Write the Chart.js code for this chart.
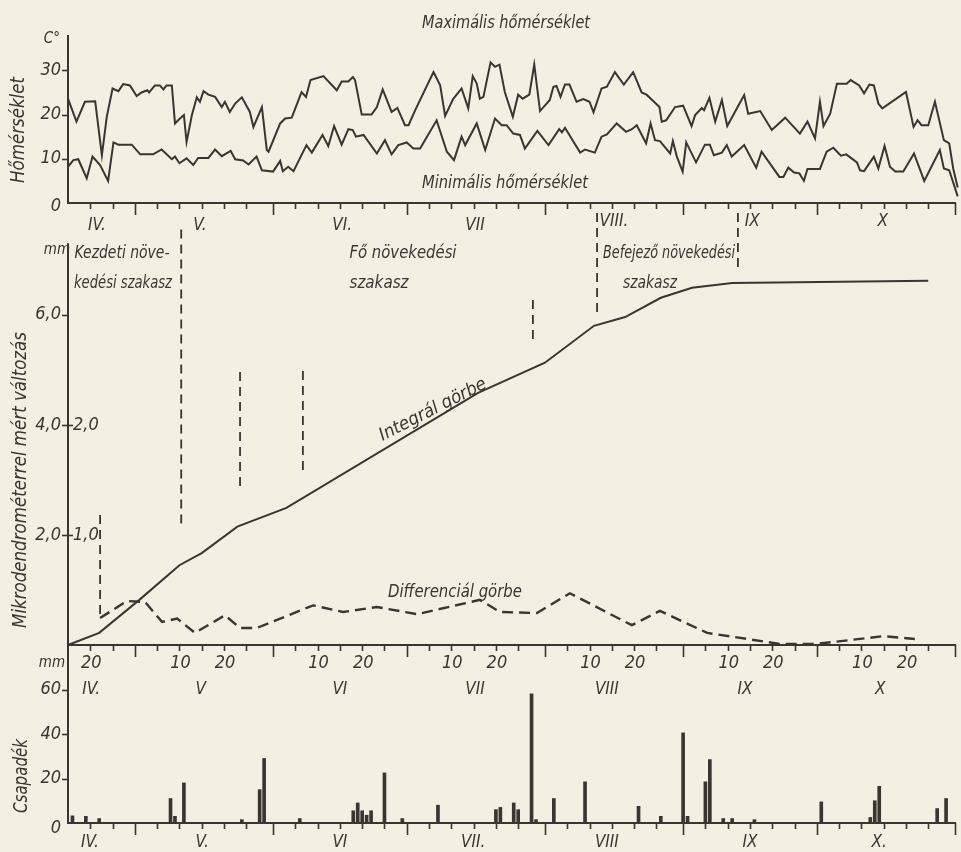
<!DOCTYPE html>
<html>
<head>
<meta charset="utf-8">
<script src="https://cdn.jsdelivr.net/npm/chart.js@4.4.1/dist/chart.umd.min.js"></script>
<style>
  html, body { margin: 0; padding: 0; background: #f3efe3; }
  #wrap { position: relative; width: 961px; height: 852px; overflow: hidden; }
  #wrap canvas { position: absolute; left: 0; top: 0; }
</style>
</head>
<body>
<div id="wrap">
  <canvas id="temp" width="961" height="852"></canvas>
  <canvas id="growth" width="961" height="852"></canvas>
  <canvas id="rain" width="961" height="852"></canvas>
</div>
<script>
// x = day counted from 15 April (0) to 31 October (199)

const maxTempDays = [0, 1.9, 3.8, 6.1, 7.6, 8.7, 10, 11.3, 12.4, 13.9, 15.4, 16.5, 17.8, 18.2, 19.5, 20.6, 21.4, 22.1, 23.3,
  24, 25, 26, 26.6, 27.8, 28.9, 29.6, 30.4, 31.5, 33, 34.5, 35.2, 36.3, 37.5, 39, 40.8, 41.6, 43.5, 44.6, 45, 47.6,
  48.7, 50.2, 52.4, 53.4, 54.4, 57.3, 60.3, 61.4, 62.9, 63.9, 64.4, 65.9, 68.1, 69.3, 70.6, 72.6, 73.9, 75.6, 76.4,
  77.9, 82, 83.5, 84.6, 86.4, 88.3, 89.8, 90.8, 91.7, 92.4, 93.2, 94.8, 95.8, 96.8, 98, 99.8, 101, 102, 103.5, 104.6,
  105.9, 108.1, 108.9, 109.6, 110.5, 111.5, 112.5, 114.1, 115.6, 117, 117.9, 119.7, 120.9, 122.7, 124.7, 126.8, 128.7,
  129.8, 132.7, 133.2, 134.2, 136.2, 138, 139.9, 140.7, 142.2, 142.7, 143.9, 145.2, 146.7, 147.9, 151.7, 152.6, 155.3,
  157.9, 160.9, 164.2, 165.9, 167.6, 168.7, 169.5, 171, 172.5, 174.7, 175.6, 177.5, 178.6, 179.8, 180.8, 181.8, 182.7,
  188, 189.7, 190.6, 191.5, 193, 194.5, 196.5, 197.7, 198.6, 199.6];
const maxTemp = [23.6, 18.4, 22.9, 23.0, 10.8, 19.5, 25.9, 25.3, 26.9, 26.6, 24.2, 25.0, 25.5, 25.0, 26.6, 26.6, 25.7, 26.6, 26.6,
  18.0, 19.0, 19.9, 13.8, 19.9, 23.9, 22.9, 25.3, 24.5, 24.0, 21.7, 22.9, 20.6, 22.5, 23.9, 20.6, 17.2, 21.7, 12.0, 11.6, 18.0,
  19.1, 19.3, 25.1, 24.0, 27.8, 28.7, 25.5, 27.5, 27.5, 28.5, 27.8, 20.0, 20.0, 21.7, 25.7, 20.6, 21.5, 17.6, 17.6,
  21.0, 29.6, 26.6, 19.7, 23.5, 25.9, 21.4, 28.7, 27.0, 23.6, 24.0, 31.8, 30.8, 31.3, 25.1, 19.5, 24.5, 23.6, 24.5, 31.3,
  20.8, 23.3, 26.3, 26.5, 24.0, 26.8, 26.8, 22.9, 23.5, 22.9, 20.5, 25.9, 26.3, 29.6, 26.8, 29.6, 25.0,
  24.5, 21.7, 18.4, 18.7, 21.7, 22.0, 17.4, 19.9, 21.5, 21.0, 23.8, 18.4, 23.3, 17.4, 24.4, 20.2, 20.8,
  16.5, 19.3, 15.7, 18.4, 14.6, 22.9, 17.4, 20.2, 27.0, 27.0, 27.8, 26.6, 24.8, 26.8, 26.6, 22.5, 21.4,
  25.1, 17.2, 18.7, 17.6, 17.6, 22.9, 14.2, 13.5, 7.8, 3.5];

const minTempDays = [0, 1.2, 2.3, 4.2, 5.5, 7.2, 9, 10.2, 11.3, 14.3, 16.2, 19.1, 21, 23.3, 24, 25, 26.6, 28.1, 29.2, 31.5,
  33, 34.5, 36.5, 37.5, 39.3, 40.5, 42.3, 43.5, 46, 47.6, 48.2, 49.4, 50.6, 53.5, 54.7, 57.1, 58.4, 59.7, 61.4, 62.9,
  63.9, 64.6, 66.3, 69.3, 71.1, 72.6, 74.1, 76, 77.5, 79, 82.7, 85, 86.6, 88.3, 89.1, 91.7, 93.6, 95.8, 97.3, 98.4,
  99.9, 101.4, 102.5, 105.3, 107.8, 110.2, 110.8, 111.5, 114.9, 116, 118.2, 119.7, 120.9, 123.1, 125.2, 126.5, 127.6,
  129.7, 130.7, 131.7, 132.8, 135.1, 135.7, 136.6, 137.9, 138.7, 140.9, 142.9, 144, 144.9, 146.7, 147.8, 148.9, 151.7,
  154.4, 155.6, 159.6, 160.5, 161.6, 162.9, 164.1, 165.1, 165.9, 168.7, 170.2, 171.7, 173.4, 174.6, 177, 177.7, 178.6,
  180.8, 181.8, 183.2, 184.4, 185.6, 187.4, 189.8, 192.1, 195.6, 196.5, 197.7, 199.6];
const minTemp = [8.2, 9.7, 9.9, 5.6, 10.5, 8.6, 5.0, 13.7, 13.2, 13.2, 11.0, 11.0, 12.1, 9.9, 10.5, 9.0, 10.1, 8.6, 10.2, 10.2,
  12.1, 10.6, 11.8, 9.9, 9.6, 8.7, 10.5, 7.4, 7.1, 9.5, 7.2, 8.2, 7.2, 13.1, 11.4, 15.4, 12.9, 17.4, 13.2, 16.7,
  16.5, 15.0, 15.4, 11.2, 14.2, 11.0, 13.1, 13.7, 12.3, 12.3, 18.7, 11.6, 9.7, 15.0, 13.1, 18.0, 12.0, 19.1, 17.6, 17.6,
  15.7, 15.4, 12.3, 16.3, 13.1, 16.7, 16.0, 17.0, 11.4, 12.1, 11.4, 15.0, 15.5, 18.0, 16.1, 16.7, 17.6,
  13.5, 18.0, 14.2, 14.0, 11.2, 14.0, 10.5, 7.1, 13.7, 9.2, 13.2, 13.2, 10.8, 11.4, 13.1, 10.5, 13.1,
  8.0, 11.6, 5.9, 5.9, 8.0, 6.9, 6.7, 5.0, 7.7, 7.7, 11.6, 12.5, 10.7, 11.0, 9.2, 7.4, 7.2,
  10.5, 7.8, 12.9, 8.2, 7.1, 7.1, 11.2, 5.0, 12.0, 7.8, 7.4, 1.5];

const integralDays = [0, 7, 16, 25, 30, 38, 49, 92, 107, 118, 125, 133, 140, 149, 193];
const integralMm = [0, 0.22, 0.82, 1.45, 1.67, 2.15, 2.49, 4.58, 5.13, 5.8, 5.96, 6.31, 6.49, 6.58, 6.62];

const diffDays = [7.2, 13.2, 17.3, 21.1, 24.5, 28.5, 35.2, 38.6, 42.4, 55, 61.7, 69.3, 78.3, 92.4, 96.9, 105.2,
  112.6, 126.5, 132.8, 143.4, 159.7, 168, 182.9, 190];
const diffMm = [0.245, 0.4, 0.39, 0.21, 0.24, 0.11, 0.27, 0.155, 0.155, 0.36, 0.3, 0.345, 0.28, 0.41, 0.3, 0.29,
  0.47, 0.18, 0.31, 0.11, 0.01, 0.01, 0.08, 0.055];

// dashed vertical phase marks (integral scale, mm)
const phaseDays = [7.2, 25.4, 38.6, 52.7, 104.3, 118.7, 150.3];
const phaseTop = [2.36, 7.55, 4.96, 4.98, 6.27, 7.85, 7.85];
const phaseBottom = [0.49, 2.18, 2.85, 3.15, 5.45, 6.04, 6.76];

const rainDays = [1, 4, 7, 23, 24, 26, 39, 43, 44, 52, 64, 65, 66, 67, 68, 71, 75, 83, 96, 97, 100, 101, 104, 105,
  109, 116, 128, 133, 138, 139, 143, 144, 147, 149, 154, 169, 180, 181, 182, 195, 197];
const rainMm = [3.2, 3, 2, 11, 3, 18, 1.5, 15, 29, 2, 5.5, 9, 5.5, 3.5, 5.5, 22.5, 2, 8, 6, 7, 9, 6, 58, 1.5,
  11, 18.5, 7.5, 3, 40.5, 3, 18.5, 28.5, 2, 2, 1.5, 9.5, 2.5, 10, 16.5, 6.5, 11];

const tempTicks = [0, 10, 20, 30];
const growthTicks = [2, 4, 6];
const diffTicks = [1, 2];
const rainTicks = [0, 20, 40, 60];

const monthEnds = [15, 46, 76, 107, 138, 168, 199];
const dateLabelDays = [5, 25, 35, 56, 66, 86, 96, 117, 127, 148, 158, 178, 188];
const dateLabels = ['20', '10', '20', '10', '20', '10', '20', '10', '20', '10', '20', '10', '20'];

const monthsTop = ['IV.', 'V.', 'VI.', 'VII', 'VIII.', 'IX', 'X'];
const monthsMid = ['IV.', 'V', 'VI', 'VII', 'VIII', 'IX', 'X'];
const monthsLow = ['IV.', 'V.', 'VI', 'VII.', 'VIII', 'IX', 'X.'];
const monthsTopAt = [6.5, 29.6, 61.5, 91.3, 122.5, 153.5, 182.8];
const monthsMidAt = [5.2, 29.8, 61, 91.3, 120.9, 151.9, 182.2];
const monthsLowAt = [4.9, 30.1, 61, 90.9, 120.9, 153, 182];

const INK = '#3a3530';
const FONT = '"Liberation Sans Narrow", "DejaVu Sans Condensed", "Liberation Sans", "DejaVu Sans", sans-serif';

function pairs(xs, ys) { return xs.map((x, i) => ({ x: x, y: ys[i] })); }

// minor ticks every 5 days inside each month
const minorTicks = [];
[0].concat(monthEnds.slice(0, -1)).forEach((e, i) => {
  const start = i === 0 ? -15 : e;
  for (let k = 5; k <= 25; k += 5) if (start + k > 0) minorTicks.push(start + k);
});

function text(ctx, s, x, y, size, opts) {
  opts = opts || {};
  ctx.save();
  ctx.translate(x, y);
  if (opts.angle) ctx.rotate(opts.angle * Math.PI / 180);
  ctx.font = 'italic ' + size + 'px ' + FONT;
  ctx.textAlign = opts.align || 'center';
  ctx.textBaseline = 'middle';
  if (opts.width) {
    const w = ctx.measureText(s).width;
    ctx.scale(opts.width / w, 1);
  }
  ctx.fillStyle = INK;
  ctx.fillText(s, 0, 0);
  ctx.restore();
}

function timeAxis(chart, yPix) {
  const ctx = chart.ctx, x = chart.scales.x;
  ctx.save();
  ctx.strokeStyle = INK;
  ctx.lineWidth = 2;
  ctx.beginPath();
  ctx.moveTo(x.left - 1, yPix);
  ctx.lineTo(x.right + 1, yPix);
  ctx.stroke();
  ctx.lineWidth = 1.6;
  ctx.beginPath();
  minorTicks.forEach(d => {
    const px = Math.round(x.getPixelForValue(d)) + 0.5;
    ctx.moveTo(px, yPix); ctx.lineTo(px, yPix + 6);
  });
  monthEnds.forEach(d => {
    const px = Math.round(x.getPixelForValue(d)) + 0.5;
    ctx.moveTo(px, yPix); ctx.lineTo(px, yPix + 12);
  });
  ctx.stroke();
  ctx.restore();
}

function leftAxis(chart, yTop, yBottom) {
  const ctx = chart.ctx, x = chart.scales.x;
  ctx.save();
  ctx.strokeStyle = INK;
  ctx.lineWidth = 2;
  ctx.beginPath();
  ctx.moveTo(x.left, yTop);
  ctx.lineTo(x.left, yBottom + 1);
  ctx.stroke();
  ctx.restore();
}

function yTick(chart, yPix, left, right) {
  const ctx = chart.ctx, x = chart.scales.x;
  ctx.save();
  ctx.strokeStyle = INK;
  ctx.lineWidth = 1.6;
  ctx.beginPath();
  ctx.moveTo(x.left - left, Math.round(yPix) + 0.5);
  ctx.lineTo(x.left + right, Math.round(yPix) + 0.5);
  ctx.stroke();
  ctx.restore();
}

const base = {
  responsive: false,
  animation: false,
  devicePixelRatio: 1,
  events: [],
  plugins: { legend: { display: false }, tooltip: { enabled: false } }
};
const lineStyle = { borderColor: INK, borderWidth: 2, pointRadius: 0, tension: 0, fill: false, clip: false };

// ---------- temperature ----------
new Chart(document.getElementById('temp'), {
  type: 'line',
  data: {
    datasets: [
      Object.assign({ data: pairs(maxTempDays, maxTemp) }, lineStyle),
      Object.assign({ data: pairs(minTempDays, minTemp) }, lineStyle)
    ]
  },
  options: Object.assign({}, base, {
    layout: { autoPadding: false, padding: { left: 68, right: 6, top: 35, bottom: 649 } },
    scales: {
      x: { type: 'linear', display: false, min: 0, max: 199 },
      y: { type: 'linear', display: false, min: 0, max: 38 }
    }
  }),
  plugins: [{
    id: 'tempDecor',
    afterDraw(chart) {
      const ctx = chart.ctx, x = chart.scales.x, y = chart.scales.y;
      leftAxis(chart, y.top, y.bottom);
      timeAxis(chart, y.bottom);
      tempTicks.forEach(v => {
        const py = y.getPixelForValue(v);
        if (v > 0) yTick(chart, py, 6, 0);
        text(ctx, String(v), x.left - 7, v === 0 ? py + 3 : py, 18, { align: 'right' });
      });
      text(ctx, 'C°', x.left - 8, y.top + 4, 15, { align: 'right' });
      text(ctx, 'Hőmérséklet', 19, 130, 19, { angle: -90, width: 106 });
      text(ctx, 'Maximális hőmérséklet', 506, 24, 17, { width: 168 });
      text(ctx, 'Minimális hőmérséklet', 505, 184, 17, { width: 166 });
    }
  }]
});

// ---------- growth (integral / differential) ----------
const growthSets = [
  Object.assign({ data: pairs(integralDays, integralMm), yAxisID: 'y' }, lineStyle),
  Object.assign({ data: pairs(diffDays, diffMm), yAxisID: 'y2' }, lineStyle, { borderWidth: 2.4, borderDash: [11, 6] })
];
phaseDays.forEach((d, i) => {
  growthSets.push(Object.assign({
    data: [{ x: d, y: phaseTop[i] }, { x: d, y: phaseBottom[i] }], yAxisID: 'y'
  }, lineStyle, { borderWidth: 1.8, borderDash: [9, 6] }));
});

new Chart(document.getElementById('growth'), {
  type: 'line',
  data: { datasets: growthSets },
  options: Object.assign({}, base, {
    layout: { autoPadding: false, padding: { left: 68, right: 6, top: 213, bottom: 207 } },
    scales: {
      x: { type: 'linear', display: false, min: 0, max: 199 },
      y: { type: 'linear', display: false, min: 0, max: 7.85 },
      y2: { type: 'linear', display: false, min: 0, max: 7.85 / 2 }
    }
  }),
  plugins: [{
    id: 'growthDecor',
    afterDraw(chart) {
      const ctx = chart.ctx, x = chart.scales.x, y = chart.scales.y, y2 = chart.scales.y2;
      leftAxis(chart, y.getPixelForValue(7.3), y.bottom);
      timeAxis(chart, y.bottom);
      monthsTop.forEach((m, i) => text(ctx, m, x.getPixelForValue(monthsTopAt[i]), i >= 4 ? 222 : 226, 17));
      text(ctx, 'mm', x.left - 11, 250, 15);
      growthTicks.forEach(v => {
        const py = y.getPixelForValue(v);
        yTick(chart, py, 6, v < 6 ? 5 : 0);
        text(ctx, v.toFixed(1).replace('.', ','), x.left - 7, py, 18, { align: 'right' });
      });
      diffTicks.forEach(v => {
        text(ctx, v.toFixed(1).replace('.', ','), x.left + 5, y2.getPixelForValue(v), 18, { align: 'left' });
      });
      text(ctx, 'Kezdeti növe-', 122, 253, 18, { width: 95 });
      text(ctx, 'kedési szakasz', 123, 283, 18, { width: 98 });
      text(ctx, 'Fő növekedési', 403, 253, 18, { width: 107 });
      text(ctx, 'szakasz', 379, 283, 18, { width: 59 });
      text(ctx, 'Befejező növekedési', 669, 253, 18, { width: 132 });
      text(ctx, 'szakasz', 650, 283, 18, { width: 54 });
      text(ctx, 'Integrál görbe', 433, 410, 18, { angle: -27, width: 118 });
      text(ctx, 'Differenciál görbe', 455, 592, 18, { width: 134 });
      text(ctx, 'Mikrodendrométerrel mért változás', 21, 480, 20, { angle: -90, width: 296 });
      // date row below the axis
      dateLabelDays.forEach((d, i) => text(ctx, dateLabels[i], x.getPixelForValue(d) + 1, 663, 18));
      monthsMid.forEach((m, i) => text(ctx, m, x.getPixelForValue(monthsMidAt[i]), 690, 17));
    }
  }]
});

// ---------- precipitation ----------
new Chart(document.getElementById('rain'), {
  type: 'bar',
  data: {
    datasets: [{ data: pairs(rainDays, rainMm), backgroundColor: INK, borderWidth: 0, barThickness: 3 }]
  },
  options: Object.assign({}, base, {
    layout: { autoPadding: false, padding: { left: 68, right: 6, top: 645, bottom: 29 } },
    scales: {
      x: { type: 'linear', display: false, min: 0, max: 199, offset: false },
      y: { type: 'linear', display: false, min: 0, max: 80 }
    }
  }),
  plugins: [{
    id: 'rainDecor',
    afterDraw(chart) {
      const ctx = chart.ctx, x = chart.scales.x, y = chart.scales.y;
      leftAxis(chart, y.top, y.bottom);
      timeAxis(chart, y.bottom);
      text(ctx, 'mm', x.left - 16, 663, 15);
      rainTicks.forEach(v => {
        const py = y.getPixelForValue(v);
        if (v > 0) yTick(chart, py, 6, 0);
        text(ctx, String(v), x.left - 7, v === 0 ? py + 5 : py, 18, { align: 'right' });
      });
      text(ctx, 'Csapadék', 22, 776, 20, { angle: -90, width: 74 });
      monthsLow.forEach((m, i) => text(ctx, m, x.getPixelForValue(monthsLowAt[i]), 843, 17));
    }
  }]
});
</script>
</body>
</html>
